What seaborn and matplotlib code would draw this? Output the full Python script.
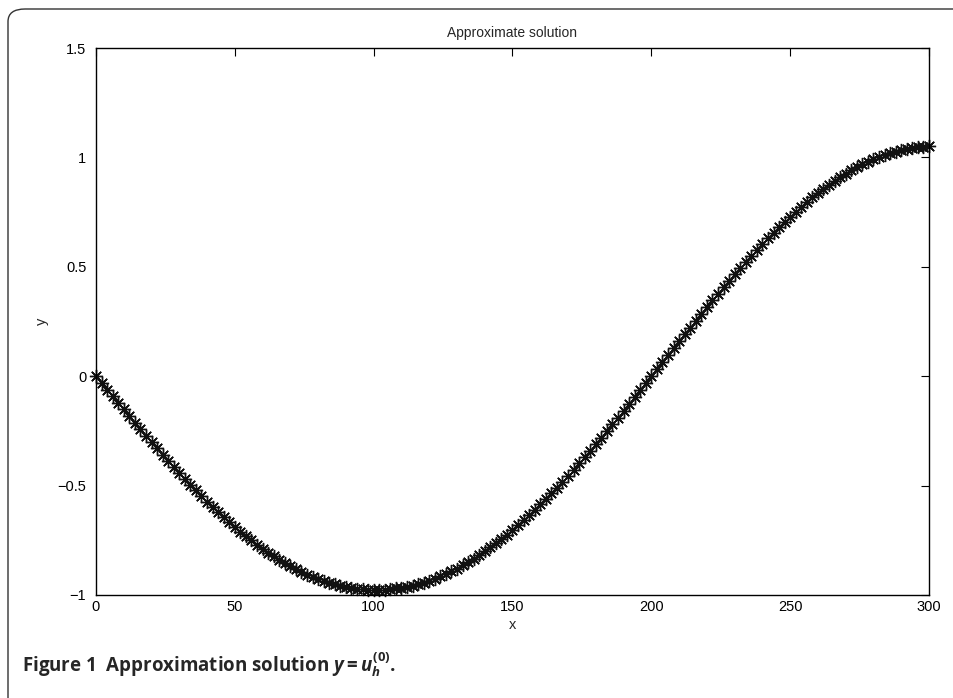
import numpy as np
import pandas as pd
import matplotlib
matplotlib.use('Agg')
import matplotlib.pyplot as plt
from matplotlib.patches import FancyBboxPatch
import seaborn as sns

# x grid of the approximate solution (step 2)
x_vals = list(range(0, 301, 2))

# y values
y_vals = [
    0.000, -0.031, -0.061, -0.092, -0.122, -0.152, -0.183, -0.213, -0.242, -0.272,
    -0.301, -0.330, -0.359, -0.387, -0.415, -0.443, -0.470, -0.496, -0.522, -0.548,
    -0.573, -0.598, -0.621, -0.645, -0.667, -0.689, -0.711, -0.731, -0.751, -0.770,
    -0.789, -0.806, -0.823, -0.839, -0.854, -0.869, -0.882, -0.895, -0.907, -0.917,
    -0.927, -0.936, -0.944, -0.952, -0.958, -0.963, -0.967, -0.971, -0.973, -0.975,
    -0.975, -0.975, -0.975, -0.973, -0.970, -0.967, -0.962, -0.957, -0.950, -0.943,
    -0.934, -0.925, -0.915, -0.904, -0.892, -0.879, -0.865, -0.850, -0.835, -0.818,
    -0.801, -0.783, -0.764, -0.744, -0.724, -0.703, -0.681, -0.658, -0.635, -0.611,
    -0.586, -0.561, -0.535, -0.509, -0.482, -0.455, -0.427, -0.398, -0.369, -0.340,
    -0.311, -0.281, -0.250, -0.220, -0.189, -0.158, -0.126, -0.095, -0.063, -0.032,
    0.000, 0.032, 0.064, 0.095, 0.127, 0.159, 0.191, 0.222, 0.253, 0.284,
    0.315, 0.346, 0.376, 0.406, 0.436, 0.465, 0.494, 0.522, 0.550, 0.577,
    0.604, 0.630, 0.656, 0.681, 0.705, 0.729, 0.752, 0.775, 0.796, 0.817,
    0.837, 0.857, 0.875, 0.893, 0.910, 0.926, 0.941, 0.955, 0.968, 0.980,
    0.992, 1.002, 1.011, 1.020, 1.027, 1.033, 1.039, 1.043, 1.046, 1.049,
    1.050,
]

x_ticks = [0, 50, 100, 150, 200, 250, 300]
y_ticks = [-1, -0.5, 0, 0.5, 1, 1.5]
y_tick_labels = ['\u22121', '\u22120.5', '0', '0.5', '1', '1.5']

df = pd.DataFrame({'x': x_vals, 'y': y_vals})

sns.set_style('white')
plt.rcParams['font.family'] = ['Liberation Sans', 'DejaVu Sans']
plt.rcParams['mathtext.fontset'] = 'custom'
plt.rcParams['mathtext.it'] = 'Open Sans:bold:italic'
plt.rcParams['mathtext.rm'] = 'Open Sans:bold'
plt.rcParams['mathtext.bf'] = 'Open Sans:bold'

fig = plt.figure(figsize=(9.54, 6.98), dpi=100)
ax = fig.add_axes([0.1006, 0.1476, 0.8732, 0.7836])

sns.lineplot(data=df, x='x', y='y', ax=ax, linestyle='none',
             marker=(8, 2, 0), markersize=9.5, markeredgewidth=1.0,
             color='black', markeredgecolor='#111111', errorbar=None,
             clip_on=False)

ax.set_xlim(0, 300)
ax.set_ylim(-1, 1.5)
ax.set_xticks(x_ticks)
ax.set_xticklabels([str(t) for t in x_ticks])
ax.set_yticks(y_ticks)
ax.set_yticklabels(y_tick_labels)
ax.tick_params(axis='y', pad=7)
ax.tick_params(direction='in', length=6, width=0.8, top=True, right=True,
               labelsize=10.5, colors='black')
for s in ax.spines.values():
    s.set_color('black')
    s.set_linewidth(1.0)

ax.set_title('Approximate solution', fontsize=10, pad=8)
ax.set_xlabel('x', fontsize=10.5, labelpad=3)
ax.set_ylabel('y', fontsize=10.5, labelpad=6)

# rounded frame around the figure
frame = FancyBboxPatch((8 / 954, -0.05), 1.1, 1 - 9 / 698 + 0.05,
                       boxstyle='round,pad=0,rounding_size=0.018',
                       transform=fig.transFigure, fill=False,
                       edgecolor='#333333', linewidth=1.0, clip_on=False)
fig.patches.append(frame)

fig.text(22 / 954, 1 - 665 / 698,
         'Figure 1  Approximation solution $y = u_h^{(0)}$.',
         fontsize=13.5, fontweight='bold', family=['Open Sans', 'DejaVu Sans'],
         va='center', ha='left')

fig.savefig('out.png', dpi=100)
